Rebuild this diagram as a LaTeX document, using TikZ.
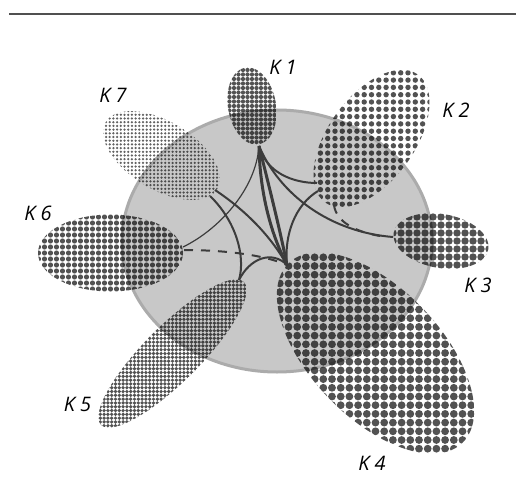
\documentclass[tikz,border=0pt]{standalone}
\usepackage{fontspec}
\setmainfont{Open Sans}
\usetikzlibrary{calc}
\definecolor{lineC}{HTML}{3C3C3C}
\definecolor{circFill}{HTML}{C8C8C8}
\definecolor{circLine}{HTML}{ABABAB}
\definecolor{ruleC}{HTML}{505050}
\newcommand\dotell[9]{%
  \begin{scope}
    \clip[rotate around={#5:(#1,#2)}] (#1,#2) ellipse [x radius=#3pt, y radius=#4pt];
    \foreach \i in {-#8,...,#8}{\foreach \j in {-#9,...,#9}{%
      \fill ({#1+\i*#6},{#2+\j*#6}) circle[radius=#7pt];}}
  \end{scope}}
\tikzset{
  conn/.style={draw=lineC, line width=2pt},
  thickconn/.style={draw=lineC, line width=3pt},
  thinconn/.style={draw=lineC, line width=1.2pt},
  dashconn/.style={draw=lineC, line width=2pt, dash pattern=on 9pt off 8pt},
  klabel/.style={font=\fontsize{20}{24}\selectfont\itshape, text=black, inner sep=0pt},
  dots/.style={fill=black, fill opacity=0.68},
  lightdots/.style={fill=black, fill opacity=0.62}
}
\begin{document}
\begin{tikzpicture}[x=1pt,y=-1pt]
\useasboundingbox (0,0) rectangle (516,497);
% top rule
\draw[ruleC, line width=1.3pt] (9,14) -- (516,14);
% big circle
\filldraw[fill=circFill, draw=circLine, line width=3pt] (277,241) ellipse [x radius=155pt, y radius=131pt];
% dotted ellipses
\begin{scope}[dots]
  \dotell{252}{106}{24}{39}{10}{4.5}{2.15}{6}{9}   % K1
  \dotell{371.5}{138.5}{79}{43}{54}{7.3}{2.7}{8}{10} % K2
  \dotell{441}{241}{48}{27}{-10}{8}{3.7}{6}{4}     % K3
  \dotell{375.5}{353}{125}{65}{-46}{8.7}{3.9}{12}{12} % K4
  \dotell{172.5}{353.5}{101}{28}{45}{3.8}{1.85}{20}{20} % K5
  \dotell{110.5}{253}{72.5}{38.5}{0}{6}{2.6}{13}{7} % K6
\end{scope}
\begin{scope}[lightdots]
  \dotell{161.5}{155.5}{65}{34}{-31}{3.7}{1.25}{16}{12} % K7
\end{scope}
% connection points
\coordinate (k1b) at (259,146);
\coordinate (k2l) at (317,183);
\coordinate (k2s) at (318,191);
\coordinate (k2b) at (334,205);
\coordinate (k3l) at (393,237);
\coordinate (k3d) at (380,236);
\coordinate (hub) at (287,265);
\coordinate (k5t) at (239,280);
\coordinate (k6r) at (183,247);
\coordinate (k6d) at (184,250);
\coordinate (k7r) at (215,190);
\coordinate (k7b) at (210,196);
% connectors
\draw[thinconn] (k1b) .. controls (256,190) and (218,230) .. (k6r);
\draw[thickconn] (k1b) .. controls (260,200) and (274,240) .. (hub);
\draw[thickconn] (k1b) .. controls (270,190) and (280,230) .. (hub);
\draw[conn] (k1b) .. controls (266,172) and (292,183) .. (k2l);
\draw[conn] (k1b) .. controls (280,195) and (330,232) .. (k3l);
\draw[conn] (k2s) .. controls (295,205) and (284,235) .. (hub);
\draw[dashconn] (k2b) .. controls (336,222) and (356,232) .. (k3d);
\draw[conn] (k7r) .. controls (245,210) and (270,235) .. (hub);
\draw[conn] (k7b) .. controls (235,220) and (246,255) .. (k5t);
\draw[conn] (k5t) .. controls (250,258) and (272,250) .. (hub);
\draw[dashconn] (k6d) .. controls (220,250) and (262,254) .. (hub);
% labels
\node[klabel] (l1) at (283,67) {K 1};
\node[klabel] (l2) at (456,110) {K 2};
\node[klabel] (l3) at (478,285) {K 3};
\node[klabel] (l4) at (372,463) {K 4};
\node[klabel] (l5) at (77.5,404) {K 5};
\node[klabel] (l6) at (38,213) {K 6};
\node[klabel] (l7) at (113,95) {K 7};
\end{tikzpicture}
\end{document}
